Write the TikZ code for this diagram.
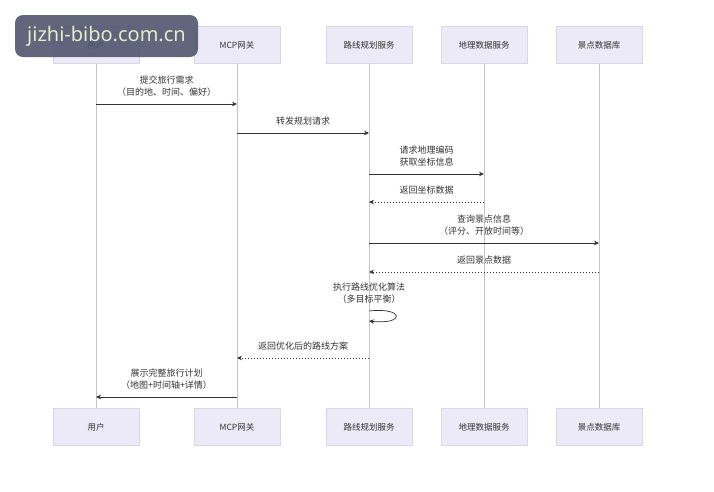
\documentclass[tikz,border=0pt]{standalone}
\usepackage{fontspec}
\setmainfont{Noto Sans CJK SC}
\newfontfamily\markfont{Noto Sans}
\usetikzlibrary{arrows.meta,positioning}
\usepackage{xcolor}
\definecolor{boxfill}{HTML}{ECEAF6}
\definecolor{boxline}{HTML}{D9D6E8}
\definecolor{lifegray}{HTML}{C6C6C6}
\definecolor{msgdark}{HTML}{333333}
\definecolor{markbg}{HTML}{50556E}
\definecolor{marktext}{HTML}{E4EEC4}

\tikzset{
  actor/.style={draw=boxline,fill=boxfill,minimum width=86pt,minimum height=37pt,
    text=msgdark,font=\fontsize{8.5}{10}\selectfont},
  life/.style={-,draw=lifegray,line width=0.3mm},
  msg/.style={draw=msgdark},
  reply/.style={msg,dash pattern=on 1.5pt off 1.5pt},
  lbl/.style={align=center,text=msgdark,font=\fontsize{9}{12}\selectfont}
}

\begin{document}
\begin{tikzpicture}[x=1pt,y=-1pt,->,>={Stealth[length=5pt,width=4.5pt]},line width=0.25mm]
  \useasboundingbox (0,0) rectangle (714,491);

  % participants, top and bottom
  \node[actor] (U)  at (96,45)  {用户};
  \node[actor] (M)  at (237,45) {MCP网关};
  \node[actor] (R)  at (369,45) {路线规划服务};
  \node[actor] (G)  at (484,45) {地理数据服务};
  \node[actor] (S)  at (599,45) {景点数据库};

  \node[actor] (U2) at (96,427)  {用户};
  \node[actor] (M2) at (237,427) {MCP网关};
  \node[actor] (R2) at (369,427) {路线规划服务};
  \node[actor] (G2) at (484,427) {地理数据服务};
  \node[actor] (S2) at (599,427) {景点数据库};

  % lifelines
  \path (U) edge[life] (U2)
        (M) edge[life] (M2)
        (R) edge[life] (R2)
        (G) edge[life] (G2)
        (S) edge[life] (S2);

  % message points
  \coordinate (u1) at (96,104);  \coordinate (m1) at (237,104);
  \coordinate (m2) at (237,133); \coordinate (r2) at (369,133);
  \coordinate (r3) at (369,174); \coordinate (g3) at (484,174);
  \coordinate (g4) at (484,202); \coordinate (r4) at (369,202);
  \coordinate (r5) at (369,243); \coordinate (s5) at (599,243);
  \coordinate (s6) at (599,272); \coordinate (r6) at (369,272);
  \coordinate (r7) at (369,311); \coordinate (r7b) at (369,321);
  \coordinate (r8) at (369,358); \coordinate (m8) at (237,358);
  \coordinate (m9) at (237,397); \coordinate (u9) at (96,397);

  \path (u1) edge[msg] node[lbl,above=4pt] {提交旅行需求\\（目的地、时间、偏好）} (m1)
        (m2) edge[msg] node[lbl,above=4pt] {转发规划请求} (r2)
        (r3) edge[msg] node[lbl,above=4pt] {请求地理编码\\获取坐标信息} (g3)
        (g4) edge[reply] node[lbl,above=4pt] {返回坐标数据} (r4)
        (r5) edge[msg] node[lbl,above=4pt] {查询景点信息\\（评分、开放时间等）} (s5)
        (s6) edge[reply] node[lbl,above=4pt] {返回景点数据} (r6)
        (r8) edge[reply] node[lbl,above=4pt] {返回优化后的路线方案} (m8)
        (m9) edge[msg] node[lbl,above=4pt] {展示完整旅行计划\\（地图+时间轴+详情）} (u9);

  % self call
  \node[lbl,above=4pt] (loopTxt) at (r7) {执行路线优化算法\\（多目标平衡）};
  \draw[msg] (r7) .. controls (405,307) and (405,325) .. (r7b);

  % watermark
  \node[fill=markbg,fill opacity=0.9,text opacity=1,rounded corners=8pt,
    minimum width=183pt,minimum height=42pt,text=marktext,
    font=\markfont\fontsize{20}{24}\selectfont] (mark) at (106.5,36) {jizhi-bibo.com.cn};
\end{tikzpicture}
\end{document}
